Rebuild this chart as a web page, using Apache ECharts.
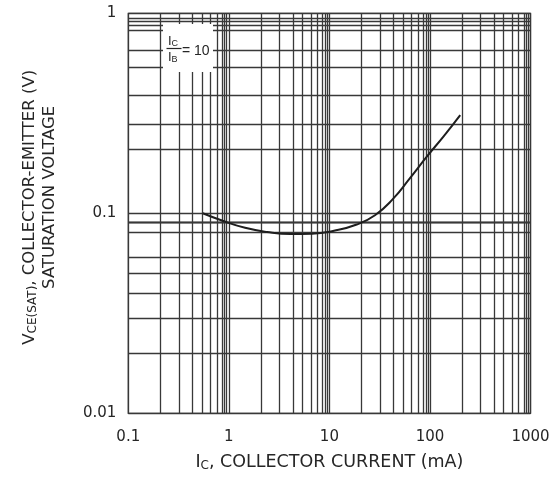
<!DOCTYPE html>
<html>
<head>
<meta charset="utf-8">
<script src="https://cdn.jsdelivr.net/npm/echarts@6/dist/echarts.min.js"></script>
<style>
  html, body { margin: 0; padding: 0; background: #ffffff; }
  #chart { width: 560px; height: 490px; }
</style>
</head>
<body>
<div id="chart"></div>
<script>
// Collector current IC (mA) and VCE(SAT) (V), IC/IB = 10
const icValues  = [0.55, 0.88, 1.45, 2.4, 4.1, 6.7, 11.1, 18.4, 28.4, 42.9, 63.3, 93.5, 138, 200];
const vceValues = [0.1, 0.0915, 0.0846, 0.0806, 0.0788, 0.0791, 0.0818, 0.0876, 0.0978, 0.118, 0.150, 0.1925, 0.244, 0.31];

// Tick labels
const xTickLabels = ['0.1', '1', '10', '100', '1000'];
const yTickLabels = ['0.01', '0.1', '1'];

// Decades and the minor grid-line factors as drawn in the original grid
const xDecades = [0.1, 1, 10, 100];
const xMinorFactors = [2.09, 3.2, 4.33, 5.38, 6.53, 7.57, 8.57, 9.12, 9.55];
const yDecades = [0.01, 0.1];
const yMinorFactors = [2.07, 2.85, 3.9, 5.41, 6.49, 8.17, 8.7, 9.08, 9.47];

const xGridValues = [];
xDecades.forEach(d => xMinorFactors.forEach(f => xGridValues.push(+(d * f).toPrecision(4))));
const yGridValues = [];
yDecades.forEach(d => yMinorFactors.forEach(f => yGridValues.push(+(d * f).toPrecision(4))));

const GRID_COLOR = '#383838';
const TEXT_COLOR = '#262626';
const FONT = 'DejaVu Sans';

const chart = echarts.init(document.getElementById('chart'), null, { renderer: 'canvas' });

chart.setOption({
  animation: false,
  backgroundColor: '#ffffff',
  grid: {
    left: 128.3, right: 29.5, top: 13.3, bottom: 76.7,
    show: true, borderColor: GRID_COLOR, borderWidth: 1.3, backgroundColor: 'transparent'
  },
  xAxis: {
    type: 'log', logBase: 10, min: 0.1, max: 1000,
    axisLine: { show: false }, axisTick: { show: false },
    splitLine: { show: true, lineStyle: { color: GRID_COLOR, width: 1.3 } },
    axisLabel: {
      margin: 16, fontFamily: FONT, fontSize: 15, color: TEXT_COLOR,
      formatter: (v, i) => xTickLabels[i] !== undefined ? xTickLabels[i] : ''
    },
    name: '{m|I}{s|C}{m|, COLLECTOR CURRENT (mA)}',
    nameLocation: 'middle', nameGap: 39,
    nameTextStyle: {
      rich: {
        m: { fontFamily: FONT, fontSize: 17.5, color: TEXT_COLOR, lineHeight: 20 },
        s: { fontFamily: FONT, fontSize: 12, color: TEXT_COLOR, lineHeight: 20, padding: [8, 0, 0, 0] }
      }
    }
  },
  yAxis: {
    type: 'log', logBase: 10, min: 0.01, max: 1,
    axisLine: { show: false }, axisTick: { show: false },
    splitLine: { show: true, lineStyle: { color: GRID_COLOR, width: 1.3 } },
    axisLabel: {
      margin: 12, fontFamily: FONT, fontSize: 15, color: TEXT_COLOR,
      formatter: (v, i) => yTickLabels[i] !== undefined ? yTickLabels[i] : ''
    },
    name: '{m1|V}{s|CE(SAT)}{m|, COLLECTOR-EMITTER (V)}\n{b|SATURATION VOLTAGE}',
    nameLocation: 'middle', nameRotate: 90, nameGap: 69,
    nameTextStyle: {
      rich: {
        m1: { fontFamily: FONT, fontSize: 16.5, color: TEXT_COLOR, lineHeight: 20, padding: [0, 0, 0, 12] },
        m: { fontFamily: FONT, fontSize: 16.5, color: TEXT_COLOR, lineHeight: 20 },
        s: { fontFamily: FONT, fontSize: 12, color: TEXT_COLOR, lineHeight: 20, padding: [8, 0, 0, 0] },
        b: { fontFamily: FONT, fontSize: 16.5, color: TEXT_COLOR, lineHeight: 20, padding: [0, 0, 0, 32] }
      }
    }
  },
  series: [
    {
      name: 'grid',
      type: 'line',
      z: 1,
      data: [],
      silent: true,
      markLine: {
        silent: true,
        symbol: ['none', 'none'],
        label: { show: false },
        lineStyle: { color: GRID_COLOR, width: 1.3, type: 'solid' },
        data: xGridValues.map(v => ({ xAxis: v })).concat(yGridValues.map(v => ({ yAxis: v })))
      }
    },
    {
      name: 'VCE(SAT)',
      type: 'line',
      z: 5,
      smooth: 0.5,
      symbol: 'none',
      lineStyle: { color: '#1e1e1e', width: 2 },
      data: icValues.map((x, i) => [x, vceValues[i]])
    }
  ],
  graphic: [
    { type: 'rect', z: 20, shape: { x: 163, y: 24, width: 50, height: 48 }, style: { fill: '#ffffff' } },
    { type: 'text', z: 21, x: 168, y: 34, style: { text: '{m|I}{s|C}', rich: {
        m: { fontFamily: 'Liberation Sans', fontSize: 13, fill: TEXT_COLOR },
        s: { fontFamily: 'Liberation Sans', fontSize: 9, fill: TEXT_COLOR, padding: [5, 0, 0, 0] } } } },
    { type: 'line', z: 21, shape: { x1: 166.5, y1: 48.5, x2: 181.5, y2: 48.5 }, style: { stroke: TEXT_COLOR, lineWidth: 1.2 } },
    { type: 'text', z: 21, x: 168, y: 50, style: { text: '{m|I}{s|B}', rich: {
        m: { fontFamily: 'Liberation Sans', fontSize: 13, fill: TEXT_COLOR },
        s: { fontFamily: 'Liberation Sans', fontSize: 9, fill: TEXT_COLOR, padding: [5, 0, 0, 0] } } } },
    { type: 'text', z: 21, x: 182, y: 44, style: { text: '= 10', fontFamily: 'Liberation Sans', fontSize: 14, fill: TEXT_COLOR } }
  ]
});
</script>
</body>
</html>
